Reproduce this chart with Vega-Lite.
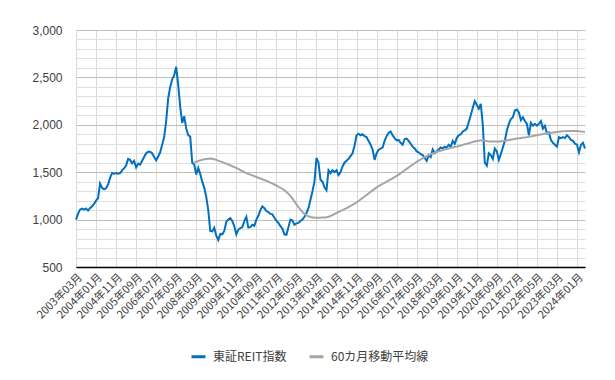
{
  "$schema": "https://vega.github.io/schema/vega-lite/v6.json",
  "width": 509,
  "height": 237,
  "autosize": {"type": "none"},
  "padding": {"left": 76, "top": 30, "right": 30, "bottom": 113},
  "background": "white",
  "config": {"view": {"stroke": null}, "font": "Noto Sans CJK JP"},
  "data": {"values": [
    {"month":"2003年03月","reit":1000},{"month":"2003年04月","reit":1060},{"month":"2003年05月","reit":1105},{"month":"2003年06月","reit":1115},{"month":"2003年07月","reit":1105},{"month":"2003年08月","reit":1118},{"month":"2003年09月","reit":1095},{"month":"2003年10月","reit":1120},{"month":"2003年11月","reit":1140},{"month":"2003年12月","reit":1165},
    {"month":"2004年01月","reit":1200},{"month":"2004年02月","reit":1225},{"month":"2004年03月","reit":1380},{"month":"2004年04月","reit":1335},{"month":"2004年05月","reit":1320},{"month":"2004年06月","reit":1330},{"month":"2004年07月","reit":1370},{"month":"2004年08月","reit":1440},{"month":"2004年09月","reit":1490},{"month":"2004年10月","reit":1485},{"month":"2004年11月","reit":1490},{"month":"2004年12月","reit":1485},
    {"month":"2005年01月","reit":1490},{"month":"2005年02月","reit":1520},{"month":"2005年03月","reit":1540},{"month":"2005年04月","reit":1570},{"month":"2005年05月","reit":1640},{"month":"2005年06月","reit":1630},{"month":"2005年07月","reit":1595},{"month":"2005年08月","reit":1620},{"month":"2005年09月","reit":1550},{"month":"2005年10月","reit":1590},{"month":"2005年11月","reit":1580},{"month":"2005年12月","reit":1620},
    {"month":"2006年01月","reit":1660},{"month":"2006年02月","reit":1700},{"month":"2006年03月","reit":1715},{"month":"2006年04月","reit":1715},{"month":"2006年05月","reit":1700},{"month":"2006年06月","reit":1660},{"month":"2006年07月","reit":1625},{"month":"2006年08月","reit":1665},{"month":"2006年09月","reit":1710},{"month":"2006年10月","reit":1790},{"month":"2006年11月","reit":1870},{"month":"2006年12月","reit":2040},
    {"month":"2007年01月","reit":2280},{"month":"2007年02月","reit":2400},{"month":"2007年03月","reit":2480},{"month":"2007年04月","reit":2520},{"month":"2007年05月","reit":2612},{"month":"2007年06月","reit":2420},{"month":"2007年07月","reit":2190},{"month":"2007年08月","reit":2020},{"month":"2007年09月","reit":2090},{"month":"2007年10月","reit":1960},{"month":"2007年11月","reit":1890},{"month":"2007年12月","reit":1875},
    {"month":"2008年01月","reit":1600},{"month":"2008年02月","reit":1580,"ma":1600},{"month":"2008年03月","reit":1475,"ma":1610},{"month":"2008年04月","reit":1545,"ma":1618},{"month":"2008年05月","reit":1480,"ma":1625},{"month":"2008年06月","reit":1400,"ma":1632},{"month":"2008年07月","reit":1335,"ma":1637},{"month":"2008年08月","reit":1240,"ma":1640},{"month":"2008年09月","reit":1100,"ma":1643},{"month":"2008年10月","reit":880,"ma":1645},{"month":"2008年11月","reit":875,"ma":1642},{"month":"2008年12月","reit":915,"ma":1637},
    {"month":"2009年01月","reit":830,"ma":1630},{"month":"2009年02月","reit":785,"ma":1622},{"month":"2009年03月","reit":850,"ma":1614},{"month":"2009年04月","reit":845,"ma":1606},{"month":"2009年05月","reit":880,"ma":1598},{"month":"2009年06月","reit":975,"ma":1590},{"month":"2009年07月","reit":1000,"ma":1581},{"month":"2009年08月","reit":1015,"ma":1572},{"month":"2009年09月","reit":985,"ma":1563},{"month":"2009年10月","reit":930,"ma":1554},{"month":"2009年11月","reit":845,"ma":1545},{"month":"2009年12月","reit":895,"ma":1534},
    {"month":"2010年01月","reit":910,"ma":1523},{"month":"2010年02月","reit":920,"ma":1512},{"month":"2010年03月","reit":985,"ma":1501},{"month":"2010年04月","reit":1030,"ma":1490},{"month":"2010年05月","reit":915,"ma":1482},{"month":"2010年06月","reit":920,"ma":1474},{"month":"2010年07月","reit":945,"ma":1466},{"month":"2010年08月","reit":935,"ma":1458},{"month":"2010年09月","reit":1000,"ma":1450},{"month":"2010年10月","reit":1040,"ma":1442},{"month":"2010年11月","reit":1100,"ma":1434},{"month":"2010年12月","reit":1140,"ma":1426},
    {"month":"2011年01月","reit":1120,"ma":1418},{"month":"2011年02月","reit":1090,"ma":1410},{"month":"2011年03月","reit":1080,"ma":1400},{"month":"2011年04月","reit":1060,"ma":1390},{"month":"2011年05月","reit":1055,"ma":1380},{"month":"2011年06月","reit":1020,"ma":1370},{"month":"2011年07月","reit":990,"ma":1360},{"month":"2011年08月","reit":965,"ma":1348},{"month":"2011年09月","reit":930,"ma":1336},{"month":"2011年10月","reit":905,"ma":1323},{"month":"2011年11月","reit":845,"ma":1310},{"month":"2011年12月","reit":840,"ma":1292},
    {"month":"2012年01月","reit":920,"ma":1272},{"month":"2012年02月","reit":1000,"ma":1250},{"month":"2012年03月","reit":990,"ma":1222},{"month":"2012年04月","reit":945,"ma":1192},{"month":"2012年05月","reit":960,"ma":1160},{"month":"2012年06月","reit":965,"ma":1132},{"month":"2012年07月","reit":985,"ma":1105},{"month":"2012年08月","reit":1000,"ma":1080},{"month":"2012年09月","reit":1030,"ma":1060},{"month":"2012年10月","reit":1070,"ma":1045},{"month":"2012年11月","reit":1120,"ma":1035},{"month":"2012年12月","reit":1210,"ma":1028},
    {"month":"2013年01月","reit":1300,"ma":1023},{"month":"2013年02月","reit":1400,"ma":1021},{"month":"2013年03月","reit":1650,"ma":1020},{"month":"2013年04月","reit":1600,"ma":1020},{"month":"2013年05月","reit":1420,"ma":1020},{"month":"2013年06月","reit":1400,"ma":1021},{"month":"2013年07月","reit":1340,"ma":1022},{"month":"2013年08月","reit":1310,"ma":1025},{"month":"2013年09月","reit":1520,"ma":1030},{"month":"2013年10月","reit":1490,"ma":1038},{"month":"2013年11月","reit":1520,"ma":1048},{"month":"2013年12月","reit":1500,"ma":1059},
    {"month":"2014年01月","reit":1520,"ma":1070},{"month":"2014年02月","reit":1470,"ma":1080},{"month":"2014年03月","reit":1500,"ma":1090},{"month":"2014年04月","reit":1560,"ma":1100},{"month":"2014年05月","reit":1600,"ma":1110},{"month":"2014年06月","reit":1620,"ma":1120},{"month":"2014年07月","reit":1640,"ma":1132},{"month":"2014年08月","reit":1670,"ma":1144},{"month":"2014年09月","reit":1700,"ma":1156},{"month":"2014年10月","reit":1780,"ma":1168},{"month":"2014年11月","reit":1890,"ma":1180},{"month":"2014年12月","reit":1905,"ma":1196},
    {"month":"2015年01月","reit":1890,"ma":1212},{"month":"2015年02月","reit":1900,"ma":1228},{"month":"2015年03月","reit":1880,"ma":1244},{"month":"2015年04月","reit":1870,"ma":1260},{"month":"2015年05月","reit":1830,"ma":1276},{"month":"2015年06月","reit":1790,"ma":1292},{"month":"2015年07月","reit":1740,"ma":1308},{"month":"2015年08月","reit":1630,"ma":1324},{"month":"2015年09月","reit":1700,"ma":1340},{"month":"2015年10月","reit":1735,"ma":1352},{"month":"2015年11月","reit":1750,"ma":1364},{"month":"2015年12月","reit":1760,"ma":1376},
    {"month":"2016年01月","reit":1830,"ma":1388},{"month":"2016年02月","reit":1880,"ma":1400},{"month":"2016年03月","reit":1915,"ma":1412},{"month":"2016年04月","reit":1930,"ma":1424},{"month":"2016年05月","reit":1890,"ma":1436},{"month":"2016年06月","reit":1860,"ma":1448},{"month":"2016年07月","reit":1835,"ma":1460},{"month":"2016年08月","reit":1840,"ma":1475},{"month":"2016年09月","reit":1810,"ma":1490},{"month":"2016年10月","reit":1790,"ma":1505},{"month":"2016年11月","reit":1850,"ma":1520},{"month":"2016年12月","reit":1855,"ma":1535},
    {"month":"2017年01月","reit":1830,"ma":1550},{"month":"2017年02月","reit":1800,"ma":1565},{"month":"2017年03月","reit":1770,"ma":1580},{"month":"2017年04月","reit":1750,"ma":1595},{"month":"2017年05月","reit":1720,"ma":1610},{"month":"2017年06月","reit":1710,"ma":1622},{"month":"2017年07月","reit":1690,"ma":1634},{"month":"2017年08月","reit":1680,"ma":1646},{"month":"2017年09月","reit":1650,"ma":1658},{"month":"2017年10月","reit":1620,"ma":1670},{"month":"2017年11月","reit":1680,"ma":1679},{"month":"2017年12月","reit":1660,"ma":1688},
    {"month":"2018年01月","reit":1740,"ma":1697},{"month":"2018年02月","reit":1700,"ma":1706},{"month":"2018年03月","reit":1720,"ma":1715},{"month":"2018年04月","reit":1740,"ma":1721},{"month":"2018年05月","reit":1760,"ma":1727},{"month":"2018年06月","reit":1750,"ma":1733},{"month":"2018年07月","reit":1770,"ma":1739},{"month":"2018年08月","reit":1760,"ma":1745},{"month":"2018年09月","reit":1790,"ma":1750},{"month":"2018年10月","reit":1770,"ma":1755},{"month":"2018年11月","reit":1830,"ma":1760},{"month":"2018年12月","reit":1800,"ma":1765},
    {"month":"2019年01月","reit":1860,"ma":1770},{"month":"2019年02月","reit":1890,"ma":1776},{"month":"2019年03月","reit":1900,"ma":1782},{"month":"2019年04月","reit":1930,"ma":1788},{"month":"2019年05月","reit":1940,"ma":1794},{"month":"2019年06月","reit":1960,"ma":1800},{"month":"2019年07月","reit":2030,"ma":1806},{"month":"2019年08月","reit":2100,"ma":1812},{"month":"2019年09月","reit":2180,"ma":1818},{"month":"2019年10月","reit":2250,"ma":1824},{"month":"2019年11月","reit":2210,"ma":1830},{"month":"2019年12月","reit":2170,"ma":1832},
    {"month":"2020年01月","reit":2220,"ma":1834},{"month":"2020年02月","reit":2000,"ma":1835},{"month":"2020年03月","reit":1600,"ma":1832},{"month":"2020年04月","reit":1570,"ma":1828},{"month":"2020年05月","reit":1700,"ma":1825},{"month":"2020年06月","reit":1680,"ma":1825},{"month":"2020年07月","reit":1640,"ma":1825},{"month":"2020年08月","reit":1750,"ma":1825},{"month":"2020年09月","reit":1720,"ma":1825},{"month":"2020年10月","reit":1630,"ma":1825},{"month":"2020年11月","reit":1690,"ma":1825},{"month":"2020年12月","reit":1760,"ma":1828},
    {"month":"2021年01月","reit":1830,"ma":1831},{"month":"2021年02月","reit":1940,"ma":1835},{"month":"2021年03月","reit":2010,"ma":1839},{"month":"2021年04月","reit":2060,"ma":1843},{"month":"2021年05月","reit":2080,"ma":1847},{"month":"2021年06月","reit":2150,"ma":1851},{"month":"2021年07月","reit":2160,"ma":1855},{"month":"2021年08月","reit":2130,"ma":1858},{"month":"2021年09月","reit":2050,"ma":1861},{"month":"2021年10月","reit":2080,"ma":1864},{"month":"2021年11月","reit":2040,"ma":1867},{"month":"2021年12月","reit":2010,"ma":1870},
    {"month":"2022年01月","reit":1890,"ma":1874},{"month":"2022年02月","reit":2020,"ma":1878},{"month":"2022年03月","reit":1990,"ma":1882},{"month":"2022年04月","reit":2010,"ma":1886},{"month":"2022年05月","reit":1990,"ma":1890},{"month":"2022年06月","reit":2010,"ma":1894},{"month":"2022年07月","reit":2040,"ma":1898},{"month":"2022年08月","reit":1960,"ma":1902},{"month":"2022年09月","reit":1990,"ma":1906},{"month":"2022年10月","reit":1910,"ma":1910},{"month":"2022年11月","reit":1920,"ma":1913},{"month":"2022年12月","reit":1840,"ma":1916},
    {"month":"2023年01月","reit":1810,"ma":1919},{"month":"2023年02月","reit":1790,"ma":1922},{"month":"2023年03月","reit":1770,"ma":1925},{"month":"2023年04月","reit":1870,"ma":1927},{"month":"2023年05月","reit":1860,"ma":1929},{"month":"2023年06月","reit":1870,"ma":1931},{"month":"2023年07月","reit":1860,"ma":1933},{"month":"2023年08月","reit":1890,"ma":1935},{"month":"2023年09月","reit":1870,"ma":1935},{"month":"2023年10月","reit":1840,"ma":1935},{"month":"2023年11月","reit":1830,"ma":1935},{"month":"2023年12月","reit":1800,"ma":1935},
    {"month":"2024年01月","reit":1790,"ma":1935},{"month":"2024年02月","reit":1710,"ma":1932},{"month":"2024年03月","reit":1790,"ma":1930},{"month":"2024年04月","reit":1810,"ma":1928},{"month":"2024年05月","reit":1750,"ma":1925}
  ]},
  "transform": [{"fold": ["reit", "ma"], "as": ["series", "value"]}],
  "mark": {"type": "line", "strokeWidth": 2},
  "encoding": {
    "x": {
      "field": "month", "type": "ordinal",
      "scale": {"type": "point", "padding": 0},
      "axis": {
        "title": null,
        "values": ["2003年03月","2004年01月","2004年11月","2005年09月","2006年07月","2007年05月","2008年03月","2009年01月","2009年11月","2010年09月","2011年07月","2012年05月","2013年03月","2014年01月","2014年11月","2015年09月","2016年07月","2017年05月","2018年03月","2019年01月","2019年11月","2020年09月","2021年07月","2022年05月","2023年03月","2024年01月"],
        "grid": true, "gridColor": "#d9d9d9", "gridWidth": 1,
        "ticks": false,
        "domainColor": "#000000", "domainWidth": 1.5,
        "labelAngle": -45, "labelFontSize": 11, "labelColor": "#404040", "labelPadding": 4,
        "labelFont": "Noto Sans CJK JP"
      }
    },
    "y": {
      "field": "value", "type": "quantitative",
      "scale": {"domain": [500, 3000], "nice": false, "zero": false},
      "axis": {
        "title": null,
        "values": [500,600,700,800,900,1000,1100,1200,1300,1400,1500,1600,1700,1800,1900,2000,2100,2200,2300,2400,2500,2600,2700,2800,2900,3000],
        "labelExpr": "datum.value % 500 === 0 ? format(datum.value, ',') : ''",
        "grid": true,
        "gridColor": {"condition": {"test": "datum.value % 500 === 0", "value": "#bfbfbf"}, "value": "#dedede"},
        "domain": false, "ticks": false,
        "labelFontSize": 12, "labelColor": "#404040", "labelPadding": 14,
        "labelFont": "Liberation Sans"
      }
    },
    "color": {
      "field": "series", "type": "nominal",
      "scale": {"domain": ["reit", "ma"], "range": ["#0070c0", "#a5a5a5"]},
      "legend": {
        "orient": "none", "legendX": 114, "legendY": 318,
        "direction": "horizontal", "title": null,
        "symbolType": "stroke", "symbolStrokeWidth": 3, "symbolSize": 196,
        "labelExpr": "datum.value === 'reit' ? '東証REIT指数' : '60カ月移動平均線'",
        "labelFontSize": 12, "labelColor": "#404040", "labelFont": "Noto Sans CJK JP",
        "columnPadding": 16, "labelOffset": 6
      }
    }
  }
}
